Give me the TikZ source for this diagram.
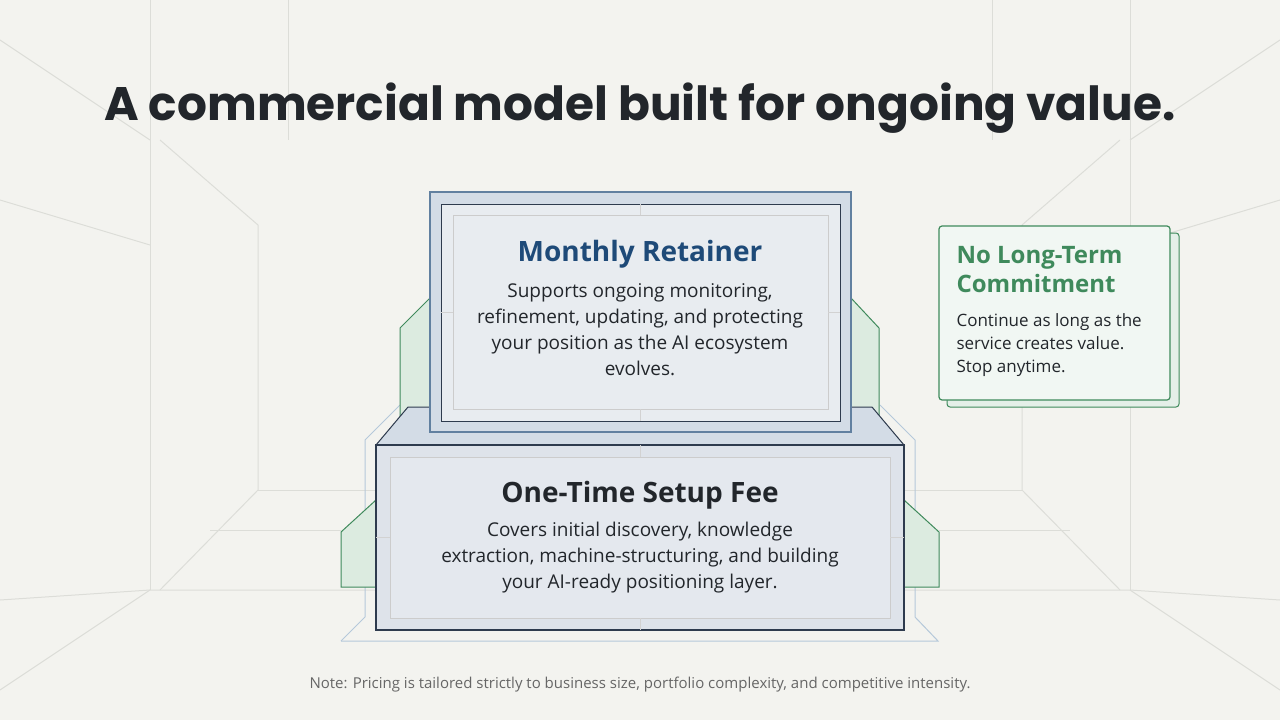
\documentclass[tikz,border=0pt]{standalone}
\usepackage{fontspec}
\setmainfont{Open Sans}
\newfontfamily\titlefont{Poppins}
\usetikzlibrary{positioning}
\definecolor{bg}{HTML}{F3F3EF}
\definecolor{gridc}{HTML}{DCDDD8}
\definecolor{navy}{HTML}{1E4A78}
\definecolor{slate}{HTML}{2E3B4E}
\definecolor{boxfill}{HTML}{DEE3EA}
\definecolor{topfill}{HTML}{D3DCE6}
\definecolor{inner}{HTML}{E8ECF0}
\definecolor{leaf}{HTML}{3F8A5C}
\definecolor{leaffill}{HTML}{DCEBE0}
\definecolor{plinth}{HTML}{B5C8DA}
\definecolor{ink}{HTML}{22262B}
\begin{document}
\begin{tikzpicture}[x=1pt,y=-1pt,
    gridline/.style={gridc,line width=1pt},
    greenblock/.style={draw=leaf,fill=leaffill,line width=1pt},
    body/.style={align=center,font=\fontsize{19}{26}\selectfont,text=ink}]
  \fill[bg] (0,0) rectangle (1280,720);
  \useasboundingbox (0,0) rectangle (1280,720);
  % background grid
  \foreach \x in {150,288,992,1130}
    \draw[gridline] (\x,0) -- (\x,140);
  \draw[gridline] (0,40) -- (150,140);
  \draw[gridline] (1280,40) -- (1130,140);
  \draw[gridline] (150,140) -- (150,590) (1130,140) -- (1130,590);
  \draw[gridline] (160,140) -- (258,225) -- (258,490) -- (160,590);
  \draw[gridline] (1120,140) -- (1022,225) -- (1022,490) -- (1120,590);
  \draw[gridline] (0,200) -- (150,245) (1280,200) -- (1130,245);
  \draw[gridline] (0,600) -- (150,590) -- (1130,590) -- (1280,600);
  \draw[gridline] (258,490) -- (376,490) (904,490) -- (1022,490);
  \draw[gridline] (0,690) -- (150,590) (1280,690) -- (1130,590);
  \draw[gridline] (210,530) -- (341,530) (939,530) -- (1070,530);
  % plinth outline
  \draw[plinth,line width=1pt] (341,641) -- (938,641) -- (915,617) -- (915,440) -- (880,405);
  \draw[plinth,line width=1pt] (341,641) -- (365,617) -- (365,440) -- (400,405);
  % green side blocks
  \draw[greenblock] (400,420) -- (400,328) -- (430,298) -- (430,420) -- cycle;
  \draw[greenblock] (879,420) -- (879,328) -- (851,298) -- (851,420) -- cycle;
  \draw[greenblock] (341,587) -- (341,532) -- (376,500) -- (376,587) -- cycle;
  \draw[greenblock] (939,587) -- (939,532) -- (904,500) -- (904,587) -- cycle;
  % setup fee box
  \draw[slate,fill=topfill,line width=1pt] (376,445) -- (408,407) -- (872,407) -- (904,445) -- cycle;
  \draw[slate,fill=boxfill,line width=1.2pt] (376,445) rectangle (904,630);
  \draw[gray!40,fill=inner!60!boxfill] (390,457) rectangle (890,618);
  \draw[gray!35] (640,445) -- (640,457) (640,618) -- (640,630) (376,537) -- (390,537) (890,537) -- (904,537);
  \node[font=\fontsize{28}{32}\selectfont\bfseries,text=ink] (setup) at (640,495) {One-Time Setup Fee};
  \node[body,below=6pt of setup] (setuptext) {Covers initial discovery, knowledge\\extraction, machine-structuring, and building\\your AI-ready positioning layer.};
  % retainer box
  \draw[navy!70,fill=topfill,line width=1.2pt] (430,192) rectangle (851,432);
  \draw[slate,fill=inner,line width=1pt] (441,204) rectangle (840,421);
  \draw[gray!40] (453,215) rectangle (828,409);
  \draw[gray!35] (640,204) -- (640,215) (640,409) -- (640,421) (441,312) -- (453,312) (828,312) -- (840,312);
  \node[font=\fontsize{28}{32}\selectfont\bfseries,text=navy] (retainer) at (640,254) {Monthly Retainer};
  \node[body,below=8pt of retainer] (retainertext) {Supports ongoing monitoring,\\refinement, updating, and protecting\\your position as the AI ecosystem\\evolves.};
  % commitment card
  \draw[leaf,fill=leaffill!80!leaf!40,line width=1pt,rounded corners=3pt] (947,233) rectangle (1179,407);
  \draw[leaf,fill=leaffill!40!white,line width=1.2pt,rounded corners=3pt] (939,226) rectangle (1170,400);
  \node[anchor=north west,align=left,font=\fontsize{24}{29}\selectfont\bfseries,text=leaf] (commit) at (953,243) {No Long-Term\\Commitment};
  \node[below right=14pt and 0pt of commit.south west,align=left,font=\fontsize{17}{23}\selectfont,text=ink] (committext) {Continue as long as the\\service creates value.\\Stop anytime.};
  % title and note
  \node[font=\titlefont\fontsize{47}{54}\selectfont\bfseries,text=ink] (title) at (640,108) {A commercial model built for ongoing value.};
  \node[font=\fontsize{15}{18}\selectfont,text=gray!80!black] (note) at (640,685) {Note: Pricing is tailored strictly to business size, portfolio complexity, and competitive intensity.};
\end{tikzpicture}
\end{document}
